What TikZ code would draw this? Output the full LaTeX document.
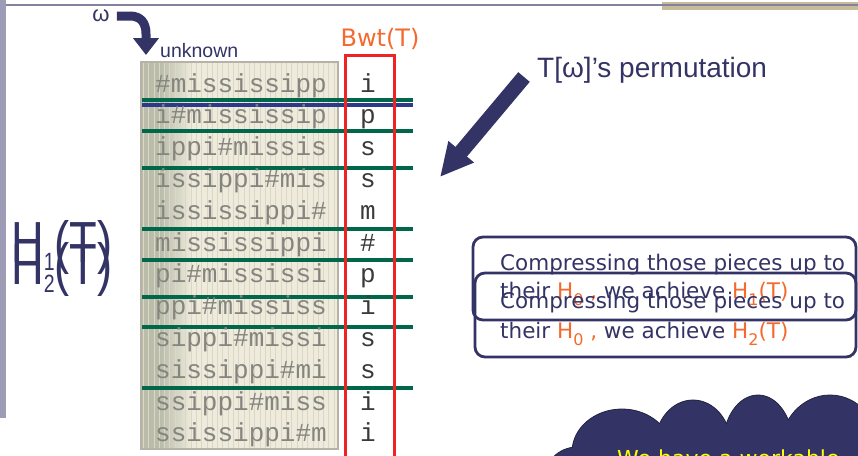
\documentclass[tikz,border=0pt]{standalone}
\usepackage{fontspec}
\usepackage{graphicx}
\setmainfont{Liberation Sans}
\setmonofont{Liberation Mono}
\newfontfamily\comicfont{DejaVu Sans}
\usetikzlibrary{arrows.meta}

\definecolor{slidenavy}{HTML}{333366}
\definecolor{orng}{HTML}{F4692E}
\definecolor{bwtred}{HTML}{EE2424}
\definecolor{sepgreen}{HTML}{00674B}
\definecolor{sepblue}{HTML}{2D3A8C}
\definecolor{matbg}{HTML}{EEEBDD}
\definecolor{matgrid}{HTML}{DCD7C4}
\definecolor{matborder}{HTML}{B7B2A6}
\definecolor{stripgray}{HTML}{B9BDAA}
\definecolor{rowgray}{HTML}{85857F}
\definecolor{bwtgray}{HTML}{3A3A3A}
\definecolor{topline}{HTML}{85809F}
\definecolor{topbar}{HTML}{C8BB98}
\definecolor{sidebar}{HTML}{9D9BB5}
\definecolor{cloudedge}{HTML}{22223F}
\definecolor{cloudyellow}{HTML}{FFFF00}

% subscripts for the entropy labels
\newcommand{\hsub}[1]{\raisebox{-8pt}{\fontsize{25}{25}\selectfont #1}}
\newcommand{\lowsub}[1]{\raisebox{-7pt}{\fontsize{16}{16}\selectfont #1}}

\begin{document}
\begin{tikzpicture}
        [x=1pt, y=-1pt,
        row/.style={font=\ttfamily\fontsize{26}{26}\selectfont, text=rowgray, inner sep=0pt, anchor=base},
        bwtletter/.style={row, text=bwtgray},
        sep/.style={draw=sepgreen, line width=4.5pt},
        callbox/.style={draw=slidenavy, line width=2.8pt, rounded corners=10pt},
        calltext/.style={font=\comicfont\fontsize{21.5}{21.5}\selectfont, text=slidenavy, inner sep=0pt, anchor=base west},
        hlabel/.style={font=\fontsize{58}{58}\selectfont, text=slidenavy, inner sep=0pt, anchor=base west},
        bigarrow/.style={draw=slidenavy},
        cloudpart/.style={fill=slidenavy, draw=cloudedge, line width=0.8pt}]

        \useasboundingbox (0,0) rectangle (858,455);
        \clip (0,0) rectangle (858,455);

        % slide frame
        \fill[topbar] (662,1.5) rectangle (858,9.5);
        \draw[topline, line width=1.8pt] (0,5) -- (858,5);
        \fill[sidebar] (0,0) rectangle (6,418);

        % the sorted rotations
        \fill[matbg] (141,62) rectangle (338,449);
        \fill[stripgray] (142,63) rectangle (160,448);
        \shade[left color=stripgray, right color=matbg] (160,63) rectangle (192,448);
        \draw[matgrid, line width=0.4pt, step=5.3] (141,62) grid (338,449);
        \draw[matborder, line width=2pt] (141,62) rectangle (338,449);

        % group separators
        \draw[sep] (142,100) -- (413,100);
        \draw[draw=sepblue, line width=3.5pt] (142,105) -- (413,105);
        \draw[sep] (142,131) -- (413,131);
        \draw[sep] (142,168) -- (413,168);
        \draw[sep] (142,229) -- (413,229);
        \draw[sep] (142,260) -- (413,260);
        \draw[sep] (142,297) -- (413,297);
        \draw[sep] (142,327) -- (413,327);
        \draw[sep] (142,388) -- (413,388);

        \node[row] (r1) at (241,92) {\#mississipp};
        \node[row] (r2) at (241,123.8) {i\#mississip};
        \node[row] (r3) at (241,155.6) {ippi\#missis};
        \node[row] (r4) at (241,187.4) {issippi\#mis};
        \node[row] (r5) at (241,219.2) {ississippi\#};
        \node[row] (r6) at (241,251) {mississippi};
        \node[row] (r7) at (241,282.8) {pi\#mississi};
        \node[row] (r8) at (241,314.6) {ppi\#mississ};
        \node[row] (r9) at (241,346.4) {sippi\#missi};
        \node[row] (r10) at (241,378.2) {sissippi\#mi};
        \node[row] (r11) at (241,410) {ssippi\#miss};
        \node[row] (r12) at (241,441.8) {ssissippi\#m};

        % last column
        \node[bwtletter] (b1) at (368,92) {i};
        \node[bwtletter] (b2) at (368,123.8) {p};
        \node[bwtletter] (b3) at (368,155.6) {s};
        \node[bwtletter] (b4) at (368,187.4) {s};
        \node[bwtletter] (b5) at (368,219.2) {m};
        \node[bwtletter] (b6) at (368,251) {\#};
        \node[bwtletter] (b7) at (368,282.8) {p};
        \node[bwtletter] (b8) at (368,314.6) {i};
        \node[bwtletter] (b9) at (368,346.4) {s};
        \node[bwtletter] (b10) at (368,378.2) {s};
        \node[bwtletter] (b11) at (368,410) {i};
        \node[bwtletter] (b12) at (368,441.8) {i};

        \draw[bwtred, line width=3pt] (345,55) rectangle (394,470);
        \node[font=\comicfont\fontsize{24}{24}\selectfont, text=orng, anchor=base, inner sep=0pt] (bwt) at (380,46) {Bwt(T)};

        % omega and its arrow
        \node[text=slidenavy, font=\fontsize{22}{22}\selectfont, inner sep=0pt] (omega) at (101,16) {ω};
        \node[anchor=base west, font=\fontsize{19.5}{19.5}\selectfont, text=slidenavy, inner sep=0pt] (unk) at (160,57) {unknown};
        \coordinate (wtip) at (146,55);
        \draw[bigarrow, line width=9pt, shorten <=7pt, -{Triangle[length=17pt,width=25pt]}]
            (omega.east) -- (130,16) .. controls (141,16) and (146,23) .. (146,34) -- (wtip);

        % permutation label
        \node[anchor=base west, font=\fontsize{28}{28}\selectfont, text=slidenavy, inner sep=0pt] (perm) at (537,77) {T[ω]’s permutation};
        \coordinate (ptail) at (524,77);
        \coordinate (ptip) at (440,177);
        \draw[bigarrow, line width=15pt, -{Triangle[length=33pt,width=31pt]}] (ptail) -- (ptip);

        % overlapped entropy labels
        \node[hlabel] (h1) at (11,262) {\scalebox{0.78}[1]{H\hsub{1}(T)}};
        \node[hlabel] (h2) at (11,284) {\scalebox{0.78}[1]{H\hsub{2}(T)}};

        % overlapped callouts
        \draw[callbox] (473,237) rectangle (856,320);
        \draw[callbox] (475,273) rectangle (856,357);
        \node[calltext] (ca1) at (500,270) {Compressing those pieces up to};
        \node[calltext] (ca2) at (500,298) {their \textcolor{orng}{H\lowsub{0} ,} we achieve \textcolor{orng}{H\lowsub{1}(T)}};
        \node[calltext] (cb1) at (500,308) {Compressing those pieces up to};
        \node[calltext] (cb2) at (500,338) {their \textcolor{orng}{H\lowsub{0} ,} we achieve \textcolor{orng}{H\lowsub{2}(T)}};

        % cloud
        \draw[cloudpart] (577,480) circle (33);
        \draw[cloudpart] (622,452) ellipse (50 and 43);
        \draw[cloudpart] (693,445) ellipse (38 and 45);
        \draw[cloudpart] (758,445) ellipse (35 and 50);
        \draw[cloudpart] (830,450) ellipse (50 and 55);
        \fill[slidenavy] (577,480) circle (32.2) (622,452) ellipse (49.2 and 42.2) (693,445) ellipse (37.2 and 44.2)
            (758,445) ellipse (34.2 and 49.2) (830,450) ellipse (49.2 and 54.2);
        \node[anchor=base west, font=\comicfont\fontsize{22}{22}\selectfont, text=cloudyellow, inner sep=0pt] (workable) at (617,466) {We have a workable};

        \end{tikzpicture}
\end{document}
